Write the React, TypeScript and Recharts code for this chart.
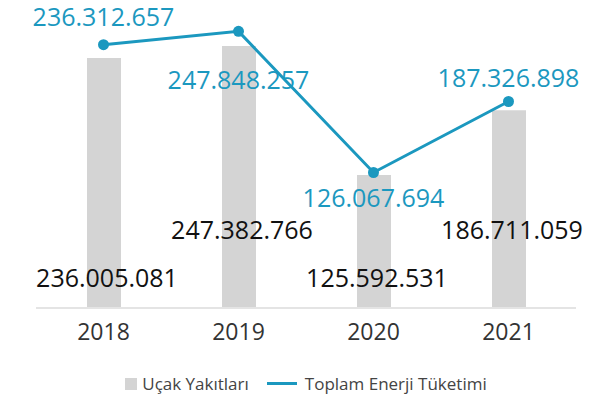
import React from 'react';
import {
  ComposedChart, Bar, Line, XAxis, YAxis, Legend, LabelList,
} from 'recharts';

const YEARS = ['2018', '2019', '2020', '2021'];
const FUEL = [236005081, 247382766, 125592531, 186711059];
const TOTAL = [236312657, 247848257, 126067694, 187326898];
const SERIES_NAMES = ['Uçak Yakıtları', 'Toplam Enerji Tüketimi'];

const data = YEARS.map((year, i) => ({ year, fuel: FUEL[i], total: TOTAL[i] }));

// label placement, tuned to the picture
const LINE_LABEL_DY = [-29, 48, 25, -24];
const BAR_LABEL_RISE = [31, 79, 31, 79];

const TEAL = '#1b98bf';
const GREY = '#d4d4d4';
const FONT = '"Open Sans", sans-serif';

const fmt = (v: number) => String(v).replace(/\B(?=(\d{3})+(?!\d))/g, '.');

const LineLabel = (props: any) => {
  const { x, y, value, index } = props;
  return (
    <text x={x} y={y + LINE_LABEL_DY[index]} fill={TEAL} fontSize={25} fontFamily={FONT}
      textAnchor="middle" dominantBaseline="central">
      {fmt(value)}
    </text>
  );
};

const BarLabel = (props: any) => {
  const { x, y, width, height, value, index } = props;
  return (
    <text x={x + width / 2 + 3} y={y + height - BAR_LABEL_RISE[index]} fill="#111" fontSize={25}
      fontFamily={FONT} textAnchor="middle" dominantBaseline="central">
      {fmt(value)}
    </text>
  );
};

const ChartLegend = () => (
  <div style={{
    display: 'flex', justifyContent: 'center', alignItems: 'flex-end', height: 52,
    paddingBottom: 5, boxSizing: 'border-box', fontFamily: FONT, fontSize: 17, color: '#444',
  }}>
    <span style={{ display: 'flex', alignItems: 'center', marginRight: 18 }}>
      <span style={{ width: 12, height: 12, background: GREY, marginRight: 5 }} />
      {SERIES_NAMES[0]}
    </span>
    <span style={{ display: 'flex', alignItems: 'center' }}>
      <span style={{ width: 30, height: 3, background: TEAL, marginRight: 8 }} />
      {SERIES_NAMES[1]}
    </span>
  </div>
);

export default function App() {
  return (
    <div style={{ position: 'absolute', left: 0, top: 0, background: '#fff' }}>
      <ComposedChart width={615} height={400} data={data}
        margin={{ top: 8, right: 39, left: 36, bottom: 0 }}>
        <XAxis dataKey="year" tickLine={false} height={40}
          axisLine={{ stroke: '#e4e4e4', strokeWidth: 2 }}
          tick={{ fill: '#333', fontSize: 23, fontFamily: FONT }} tickMargin={10} />
        <YAxis yAxisId="bar" hide domain={[0, 283300000]} />
        <YAxis yAxisId="line" orientation="right" hide domain={[9150000, 268000000]} />
        <Legend verticalAlign="bottom" height={52} content={ChartLegend} />
        <Bar yAxisId="bar" dataKey="fuel" name={SERIES_NAMES[0]} fill={GREY} barSize={34}
          isAnimationActive={false}>
          <LabelList dataKey="fuel" content={BarLabel} />
        </Bar>
        <Line yAxisId="line" dataKey="total" name={SERIES_NAMES[1]} stroke={TEAL} strokeWidth={3}
          type="linear" dot={{ r: 5.5, fill: TEAL, stroke: TEAL, strokeWidth: 0 }}
          isAnimationActive={false}>
          <LabelList dataKey="total" content={LineLabel} />
        </Line>
      </ComposedChart>
    </div>
  );
}
